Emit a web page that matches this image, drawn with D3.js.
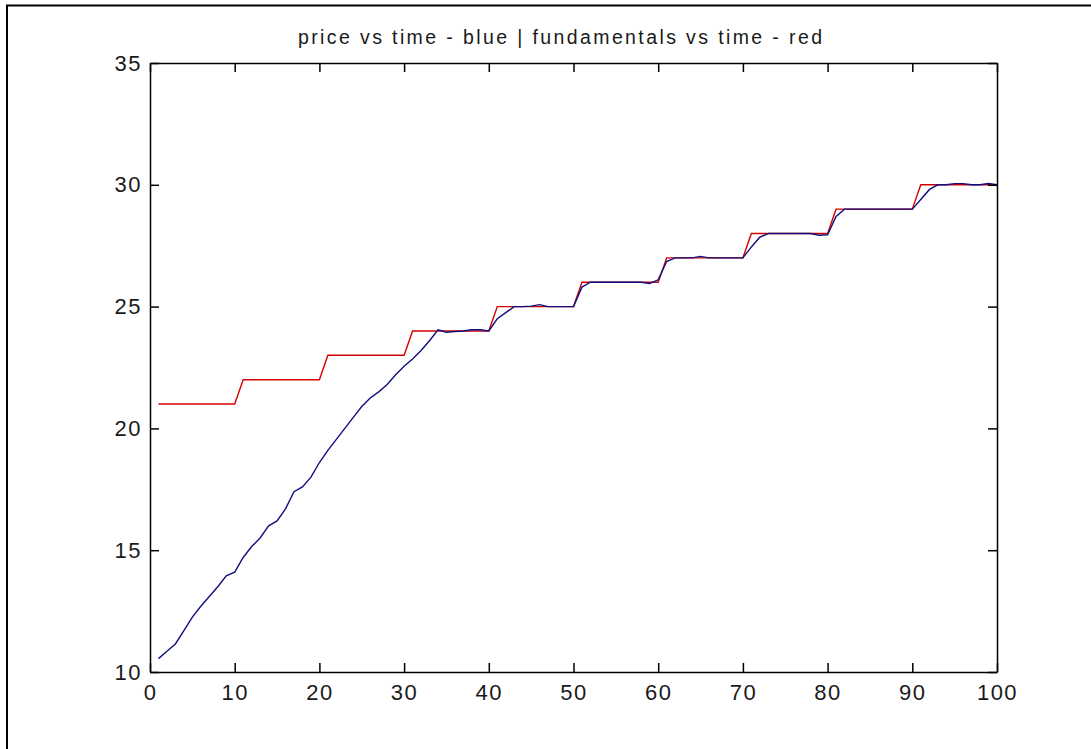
<!DOCTYPE html>
<html>
<head>
<meta charset="utf-8">
<script src="https://cdn.jsdelivr.net/npm/d3@7"></script>
<style>
  body { margin: 0; background: #fff; }
  text { font-family: "Liberation Sans", Arial, sans-serif; }
</style>
</head>
<body>
<div id="container"></div>
<script>
// time steps 1..100
const time = d3.range(1, 101);

// price (blue)
const price = [
  10.55, 10.85, 11.15, 11.7, 12.25, 12.7, 13.1, 13.5, 13.95, 14.1,
  14.7, 15.15, 15.5, 16.0, 16.2, 16.7, 17.4, 17.6, 18.0, 18.6,
  19.1, 19.55, 20.0, 20.45, 20.9, 21.25, 21.5, 21.8, 22.2, 22.55,
  22.85, 23.2, 23.6, 24.05, 23.95, 23.98, 24.0, 24.05, 24.05, 24.0,
  24.5, 24.75, 25.0, 25.0, 25.02, 25.08, 25.0, 25.0, 25.0, 25.0,
  25.8, 26.0, 26.0, 26.0, 26.0, 26.0, 26.0, 26.0, 25.95, 26.1,
  26.85, 27.0, 27.0, 27.0, 27.06, 27.0, 27.0, 27.0, 27.0, 27.0,
  27.45, 27.85, 28.0, 28.0, 28.0, 28.0, 28.0, 28.0, 27.93, 27.95,
  28.7, 29.0, 29.0, 29.0, 29.0, 29.0, 29.0, 29.0, 29.0, 29.0,
  29.4, 29.8, 30.0, 30.0, 30.05, 30.05, 30.0, 30.0, 30.05, 30.0
];

// fundamentals (red)
const fundamentals = [
  21, 21, 21, 21, 21, 21, 21, 21, 21, 21,
  22, 22, 22, 22, 22, 22, 22, 22, 22, 22,
  23, 23, 23, 23, 23, 23, 23, 23, 23, 23,
  24, 24, 24, 24, 24, 24, 24, 24, 24, 24,
  25, 25, 25, 25, 25, 25, 25, 25, 25, 25,
  26, 26, 26, 26, 26, 26, 26, 26, 26, 26,
  27, 27, 27, 27, 27, 27, 27, 27, 27, 27,
  28, 28, 28, 28, 28, 28, 28, 28, 28, 28,
  29, 29, 29, 29, 29, 29, 29, 29, 29, 29,
  30, 30, 30, 30, 30, 30, 30, 30, 30, 30
];

const xTicks = [0, 10, 20, 30, 40, 50, 60, 70, 80, 90, 100];
const yTicks = [10, 15, 20, 25, 30, 35];
const title = "price vs time - blue | fundamentals vs time - red";

const width = 1091;
const height = 749;
const margin = { left: 150, top: 63, right: 94, bottom: 77 };
const plotW = width - margin.left - margin.right;
const plotH = height - margin.top - margin.bottom;

const svg = d3.select("#container").append("svg")
    .attr("width", width)
    .attr("height", height);

// outer frame
svg.append("rect")
  .attr("x", 7).attr("y", 5.5)
  .attr("width", 1200).attr("height", 1200)
  .attr("fill", "none")
  .attr("stroke", "#000")
  .attr("stroke-width", 2);

const xScale = d3.scaleLinear().domain([0, 100]).range([0, plotW]);
const yScale = d3.scaleLinear().domain([10, 35]).range([plotH, 0]);

const g = svg.append("g")
  .attr("transform", "translate(" + margin.left + "," + margin.top + ")");

const line = d3.line()
  .x((d, i) => xScale(time[i]))
  .y(d => yScale(d));

g.append("path")
  .datum(fundamentals)
  .attr("d", line)
  .attr("fill", "none")
  .attr("stroke", "#d40000")
  .attr("stroke-width", 1.4);

g.append("path")
  .datum(price)
  .attr("d", line)
  .attr("fill", "none")
  .attr("stroke", "#10107e")
  .attr("stroke-width", 1.4);

// axes, ticks inward on all four sides
function style(sel) {
  sel.selectAll(".domain").attr("stroke", "#000").attr("stroke-width", 1.5);
  sel.selectAll(".tick line").attr("stroke", "#000").attr("stroke-width", 1.5);
  sel.selectAll("text").attr("font-size", 22).attr("fill", "#1a1a1a")
    .style("letter-spacing", "1.5px")
    .style("font-family", "'Liberation Sans', Arial, sans-serif");
}

g.append("g")
  .attr("transform", "translate(0," + plotH + ")")
  .call(d3.axisBottom(xScale).tickValues(xTicks).tickSize(-9).tickSizeOuter(0).tickPadding(12))
  .call(style);

g.append("g")
  .call(d3.axisTop(xScale).tickValues(xTicks).tickSize(-9).tickSizeOuter(0).tickFormat(""))
  .call(style);

g.append("g")
  .call(d3.axisLeft(yScale).tickValues(yTicks).tickSize(-9).tickSizeOuter(0).tickPadding(8))
  .call(style);

g.append("g")
  .attr("transform", "translate(" + plotW + ",0)")
  .call(d3.axisRight(yScale).tickValues(yTicks).tickSize(-9).tickSizeOuter(0).tickFormat(""))
  .call(style);

svg.append("text")
  .attr("x", 560)
  .attr("y", 44)
  .attr("text-anchor", "middle")
  .attr("font-size", 19.5)
  .attr("fill", "#1a1a1a")
  .attr("textLength", 524)
  .attr("lengthAdjust", "spacing")
  .text(title);
</script>
</body>
</html>
